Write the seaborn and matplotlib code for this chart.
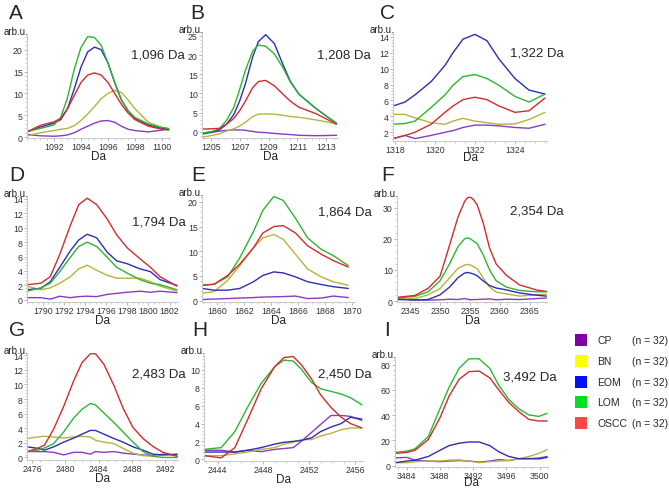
import matplotlib
matplotlib.use("Agg")
import matplotlib.pyplot as plt
from matplotlib.patches import Rectangle
from matplotlib.ticker import AutoMinorLocator
import pandas as pd
import seaborn as sns

# group names and colours
groups = ["CP", "BN", "EOM", "LOM", "OSCC"]
line_colors = {"CP": "#8a3cc0", "BN": "#b8b33a", "EOM": "#2e2eb5",
               "LOM": "#2fb52f", "OSCC": "#d22c2c"}
legend_colors = ["#8000a8", "#ffff00", "#0010ff", "#00e020", "#ff4646"]
legend_n = ["(n = 32)"] * 5

# ---- panel A: 1,096 Da
a_x = [1090.0, 1091, 1092, 1092.5, 1093, 1093.5, 1094, 1094.5, 1095, 1095.5,
       1096, 1096.5, 1097, 1097.5, 1098, 1099, 1100, 1100.5]
a_cp = [0.6, 0.3, 0.2, 0.3, 0.5, 1.0, 1.8, 2.5, 3.2, 3.7, 3.8, 3.4, 2.5, 1.8, 1.5, 1.2, 1.6, 1.9]
a_bn = [0.3, 1.0, 1.5, 1.8, 2.0, 2.6, 3.8, 5.3, 7.0, 8.8, 10.0, 10.7, 10.2, 8.5, 6.5, 3.4, 2.2, 1.9]
a_eom = [1.2, 2.3, 3.2, 4.0, 6.5, 11.0, 16.0, 19.5, 20.6, 20.0, 17.0, 12.5, 8.5, 6.0, 4.3, 2.8, 2.0, 1.8]
a_lom = [1.3, 2.0, 2.8, 4.5, 9.0, 15.5, 20.5, 23.0, 22.8, 21.0, 17.0, 12.5, 8.5, 6.0, 4.5, 3.0, 2.2, 2.0]
a_oscc = [1.2, 2.7, 3.5, 4.3, 6.5, 9.5, 12.5, 14.2, 14.7, 14.2, 12.5, 10.0, 7.5, 5.5, 4.0, 2.5, 1.8, 1.6]

# ---- panel B: 1,208 Da
b_x = [1204.4, 1205, 1205.6, 1206.1, 1206.6, 1207, 1207.4, 1207.9, 1208.3, 1208.8,
       1209.4, 1210.0, 1210.5, 1211.1, 1212.3, 1213.7]
b_cp = [-0.6, -0.2, 0.2, 0.4, 0.5, 0.5, 0.4, 0.1, -0.1, -0.2, -0.4, -0.6, -0.7, -0.9, -1.0, -0.9]
b_bn = [-1.4, -1.0, -0.5, 0.2, 0.8, 1.5, 2.5, 4.0, 4.6, 4.7, 4.6, 4.3, 4.0, 3.8, 3.1, 2.1]
b_eom = [-0.3, -0.1, 0.5, 2.0, 4.5, 8.0, 12.5, 19.5, 23.5, 25.3, 23.0, 17.5, 13.2, 9.8, 6.0, 2.2]
b_lom = [-0.3, 0.0, 0.8, 3.0, 6.4, 11.0, 16.0, 21.0, 22.6, 22.3, 20.3, 16.7, 13.0, 9.8, 6.0, 2.2]
b_oscc = [0.7, 0.8, 0.9, 2.0, 3.5, 5.5, 8.0, 11.5, 13.1, 13.4, 12.0, 9.8, 8.0, 6.4, 4.7, 2.0]

# ---- panel C: 1,322 Da
c_x = [1317.9, 1318.5, 1319.0, 1319.8, 1320.5, 1320.9, 1321.4, 1322.0, 1322.6, 1323.2,
       1324.0, 1324.7, 1325.5]
c_cp = [1.2, 1.6, 1.2, 1.6, 2.0, 2.2, 2.6, 2.9, 2.9, 2.8, 2.6, 2.5, 3.0]
c_bn = [4.25, 4.25, 3.8, 3.2, 3.0, 3.4, 3.75, 3.4, 3.2, 3.0, 3.05, 3.6, 4.5]
c_eom = [5.3, 5.8, 6.7, 8.35, 10.4, 12.0, 13.7, 14.3, 13.5, 11.2, 8.75, 7.3, 6.8]
c_lom = [3.0, 3.1, 3.4, 5.1, 6.7, 7.9, 9.0, 9.25, 8.75, 7.9, 6.5, 5.8, 6.8]
c_oscc = [1.2, 1.6, 2.0, 3.0, 4.5, 5.3, 6.1, 6.4, 6.1, 5.3, 4.5, 4.7, 6.3]

# ---- panel D: 1,794 Da
d_x = [1788.5, 1789.8, 1790.7, 1791.6, 1792.6, 1793.4, 1794.2, 1795.1, 1796.1, 1797.0,
       1798.0, 1799.2, 1800.2, 1801.1, 1802.7]
d_cp = [0.3, 0.3, 0.1, 0.5, 0.3, 0.45, 0.5, 0.45, 0.75, 0.9, 1.05, 1.2, 1.05, 1.2, 1.0]
d_bn = [1.9, 1.4, 1.65, 2.3, 3.2, 4.3, 4.8, 4.1, 3.4, 3.0, 3.0, 3.0, 2.5, 1.9, 1.2]
d_eom = [1.4, 1.6, 2.5, 4.5, 6.8, 8.3, 9.1, 8.6, 6.6, 5.4, 5.0, 4.3, 3.9, 2.8, 2.0]
d_lom = [1.2, 1.65, 2.3, 3.9, 5.9, 7.4, 8.0, 7.4, 5.9, 4.5, 3.7, 2.8, 2.3, 2.1, 1.4]
d_oscc = [2.1, 2.3, 3.2, 6.3, 10.3, 13.2, 14.1, 13.2, 11.2, 9.0, 7.2, 5.7, 4.5, 3.2, 1.9]

# ---- panel E: 1,864 Da
e_x = [1858.9, 1859.8, 1860.8, 1861.7, 1862.7, 1863.4, 1864.2, 1864.9, 1865.8, 1866.7,
       1867.7, 1868.6, 1869.7]
e_cp = [0.2, 0.3, 0.4, 0.5, 0.6, 0.7, 0.75, 0.8, 0.9, 0.4, 0.5, 0.9, 0.6]
e_bn = [1.5, 1.8, 4.1, 7.1, 10.7, 12.7, 13.4, 12.4, 9.4, 6.4, 4.8, 3.8, 3.1]
e_eom = [2.45, 2.1, 2.1, 2.45, 3.8, 5.1, 5.8, 5.6, 4.8, 3.8, 3.25, 2.8, 2.45]
e_lom = [3.1, 3.3, 4.8, 8.7, 14.0, 18.3, 21.1, 20.3, 16.7, 12.7, 10.4, 9.1, 7.1]
e_oscc = [3.1, 3.3, 5.1, 7.4, 10.7, 13.7, 15.0, 15.2, 13.7, 11.1, 9.4, 8.1, 6.8]

# ---- panel F: 2,354 Da
f_x = [2342.8, 2345.8, 2348.0, 2350.0, 2351.6, 2353.0, 2354.1, 2354.6, 2355.1, 2355.6,
       2356.2, 2357.2, 2358.3, 2359.4, 2361.1, 2363.3, 2366.1, 2367.8]
f_cp = [0.8, 0.4, 0.3, 0.4, 0.6, 0.5, 0.8, 0.6, 0.4, 0.5, 0.5, 0.6, 0.7, 0.4, 0.6, 0.5, 0.8, 1.0]
f_bn = [0.6, 0.8, 2.0, 4.0, 7.5, 10.5, 11.6, 11.8, 11.6, 11.1, 10.5, 7.5, 4.5, 2.9, 2.3, 1.6, 2.0, 2.2]
f_eom = [0.5, 0.3, 0.5, 2.0, 4.5, 7.5, 9.0, 9.2, 9.0, 8.7, 8.2, 6.5, 5.0, 4.2, 3.6, 2.6, 1.9, 1.6]
f_lom = [1.0, 1.5, 3.0, 6.5, 12.0, 17.5, 20.0, 20.3, 20.0, 19.3, 18.5, 15.0, 10.0, 6.5, 4.5, 3.4, 3.0, 3.0]
f_oscc = [1.2, 1.8, 4.1, 8.0, 18.0, 27.0, 32.0, 33.3, 33.4, 32.6, 31.0, 25.3, 17.0, 11.9, 8.3, 5.2, 3.6, 3.1]

# ---- panel G: 2,483 Da
g_x = [2475.4, 2476.7, 2477.5, 2478.6, 2479.8, 2481.0, 2482.0, 2483.0, 2483.6, 2484.6,
       2485.8, 2486.9, 2488.1, 2489.3, 2490.5, 2491.7, 2493.4]
g_cp = [0.8, 0.8, 0.8, 0.7, 0.35, 0.7, 0.7, 0.45, 0.8, 0.7, 0.8, 0.6, 0.45, 0.35, 0.25, 0.45, 0.35]
g_bn = [2.6, 2.8, 2.9, 2.8, 2.65, 2.8, 2.9, 2.8, 2.35, 2.1, 1.9, 1.25, 0.6, 0.25, 0.15, 0.35, 0.35]
g_eom = [1.45, 1.25, 1.0, 1.45, 2.1, 2.65, 3.2, 3.7, 3.7, 3.2, 2.6, 2.1, 1.45, 1.0, 0.45, 0.35, 0.45]
g_lom = [0.8, 1.0, 1.3, 1.9, 3.5, 5.4, 6.6, 7.4, 7.2, 6.1, 4.8, 3.5, 2.1, 0.8, 0.15, 0.0, 0.0]
g_oscc = [0.8, 1.25, 1.7, 3.9, 7.0, 10.5, 13.0, 14.2, 14.2, 12.8, 9.9, 6.8, 4.1, 2.6, 1.5, 0.7, 0.15]

# ---- panel H: 2,450 Da
h_x = [2442.8, 2444.3, 2445.5, 2446.6, 2447.8, 2449.0, 2449.8, 2450.6, 2451.3, 2452.2,
       2453.0, 2453.9, 2454.8, 2455.6, 2456.6]
h_cp = [1.0, 1.0, 0.8, 1.0, 0.85, 1.1, 1.2, 1.3, 2.0, 3.0, 3.9, 4.9, 4.9, 4.8, 4.35]
h_bn = [0.4, 0.4, 0.6, 0.8, 1.1, 1.3, 1.7, 1.9, 2.2, 2.2, 2.6, 2.9, 3.3, 3.5, 3.5]
h_eom = [0.8, 0.8, 0.8, 1.0, 1.3, 1.7, 1.9, 2.0, 2.1, 2.4, 3.1, 3.6, 4.0, 4.7, 4.5]
h_lom = [1.1, 1.3, 3.1, 5.8, 8.5, 10.4, 11.1, 11.0, 10.1, 8.6, 7.9, 7.6, 7.3, 6.9, 6.1]
h_oscc = [0.4, 0.15, 1.3, 4.4, 7.9, 10.4, 11.4, 11.5, 10.6, 9.0, 7.2, 5.8, 4.7, 4.0, 3.5]

# ---- panel I: 3,492 Da
i_x = [3482.6, 3484.0, 3485.0, 3486.6, 3488.0, 3489.1, 3490.3, 3491.5, 3492.7, 3494.0,
       3495.1, 3496.3, 3497.5, 3498.7, 3499.9, 3500.9]
i_cp = [6.1, 6.6, 4.4, 3.7, 3.2, 3.7, 4.1, 3.7, 2.9, 3.7, 4.9, 4.1, 5.6, 5.6, 6.1, 7.3]
i_bn = [2.4, 2.4, 3.2, 3.7, 3.7, 4.4, 4.6, 3.7, 2.4, 3.2, 3.7, 4.1, 5.6, 7.3, 9.8, 12.7]
i_eom = [2.4, 3.7, 4.4, 7.3, 12.2, 15.9, 17.8, 18.8, 18.8, 15.9, 11.0, 7.3, 5.6, 5.6, 5.4, 6.6]
i_lom = [10.5, 11.5, 13.4, 23.0, 45.0, 62.0, 77.0, 84.6, 84.6, 77.0, 63.4, 52.4, 45.0, 40.2, 39.0, 41.5]
i_oscc = [9.8, 10.5, 12.2, 20.7, 37.8, 55.0, 68.3, 74.4, 74.9, 69.5, 59.8, 50.0, 42.7, 36.6, 35.4, 35.4]

panel_letters = ["A", "B", "C", "D", "E", "F", "G", "H", "I"]
mass_labels = ["1,096 Da", "1,208 Da", "1,322 Da", "1,794 Da", "1,864 Da",
               "2,354 Da", "2,483 Da", "2,450 Da", "3,492 Da"]
xticks = [[1092, 1094, 1096, 1098, 1100], [1205, 1207, 1209, 1211, 1213],
          [1318, 1320, 1322, 1324], [1790, 1792, 1794, 1796, 1798, 1800, 1802],
          [1860, 1862, 1864, 1866, 1868, 1870], [2345, 2350, 2355, 2360, 2365],
          [2476, 2480, 2484, 2488, 2492], [2444, 2448, 2452, 2456],
          [3484, 3488, 3492, 3496, 3500]]
yticks = [[0, 5, 10, 15, 20], [0, 5, 10, 15, 20, 25], [2, 4, 6, 8, 10, 12, 14],
          [0, 2, 4, 6, 8, 10, 12, 14], [0, 5, 10, 15, 20], [0, 10, 20, 30],
          [0, 2, 4, 6, 8, 10, 12, 14], [0, 2, 4, 6, 8, 10], [0, 20, 40, 60, 80]]

panels = [
    (a_x, [a_cp, a_bn, a_eom, a_lom, a_oscc]),
    (b_x, [b_cp, b_bn, b_eom, b_lom, b_oscc]),
    (c_x, [c_cp, c_bn, c_eom, c_lom, c_oscc]),
    (d_x, [d_cp, d_bn, d_eom, d_lom, d_oscc]),
    (e_x, [e_cp, e_bn, e_eom, e_lom, e_oscc]),
    (f_x, [f_cp, f_bn, f_eom, f_lom, f_oscc]),
    (g_x, [g_cp, g_bn, g_eom, g_lom, g_oscc]),
    (h_x, [h_cp, h_bn, h_eom, h_lom, h_oscc]),
    (i_x, [i_cp, i_bn, i_eom, i_lom, i_oscc]),
]

# layout in pixels: axes box (left, top, right, bottom), x and y limits
boxes = [(27, 35, 170, 139), (202, 33, 338, 139), (393, 33, 547, 142),
         (27, 197, 178, 303), (202, 196, 355, 303), (397, 197, 547, 303),
         (27, 354, 178, 461), (204, 354, 363, 462), (395, 358, 548, 468)]
xlims = [(1090.0, 1100.6), (1204.4, 1213.8), (1317.9, 1325.6), (1788.5, 1802.8),
         (1858.9, 1870.2), (2342.8, 2367.9), (2475.4, 2493.5), (2442.8, 2456.7),
         (3482.6, 3501.0)]
ylims = [(-0.2, 23.6), (-1.6, 26.0), (0.9, 14.6), (-0.3, 14.4), (-0.3, 21.4),
         (-0.3, 33.8), (-0.35, 14.3), (-0.2, 11.9), (-1.0, 86.0)]
letter_pos = [(9, 4), (190, 4), (380, 4), (9, 166), (191, 166), (381, 166),
              (9, 321), (192, 321), (384, 321)]
mass_pos = [(131, 55), (317, 55), (510, 54), (132, 223), (318, 213), (510, 212),
            (132, 375), (318, 375), (503, 377)]
xlabel_pad = [-1, -1, -2, -1, -1, -1, -1, -1, -3]

W, H = 669, 489
sns.set_theme(style="white")
plt.rcParams["font.family"] = ["Liberation Sans", "DejaVu Sans"]

fig = plt.figure(figsize=(W / 100, H / 100), dpi=100)

for k, (xs, series) in enumerate(panels):
    l, t, r, b = boxes[k]
    ax = fig.add_axes([l / W, 1 - b / H, (r - l) / W, (b - t) / H])
    df = pd.DataFrame({
        "Da": xs * 5,
        "val": [v for s in series for v in s],
        "group": [g for g in groups for _ in xs],
    })
    sns.lineplot(data=df, x="Da", y="val", hue="group", palette=line_colors,
                 estimator=None, sort=False, legend=False, lw=1.0, ax=ax)
    for line in ax.get_lines():
        line.set_solid_joinstyle("round")
    ax.set_xlim(*xlims[k])
    ax.set_ylim(*ylims[k])
    ax.set_xticks(xticks[k])
    ax.set_yticks(yticks[k])
    ax.xaxis.set_minor_locator(AutoMinorLocator(4))
    ax.yaxis.set_minor_locator(AutoMinorLocator(5))
    ax.tick_params(axis="both", which="major", labelsize=6.3, labelcolor="#333333",
                   length=2, width=0.6, color="#aaaaaa", pad=1, direction="out",
                   bottom=True, left=True)
    ax.tick_params(axis="both", which="minor", length=1.3, width=0.5,
                   color="#bbbbbb", bottom=True, left=True)
    for side in ["top", "right"]:
        ax.spines[side].set_visible(False)
    for side in ["left", "bottom"]:
        ax.spines[side].set_color("#c8c8c8")
        ax.spines[side].set_linewidth(0.7)
    ax.set_ylabel("")
    ax.set_xlabel("Da", fontsize=8.5, labelpad=xlabel_pad[k])
    ax.set_facecolor("none")

    fig.text((l + 1) / W, 1 - (t - 3) / H, "arb.u.", fontsize=7, ha="right",
             va="center", color="#222222")
    lx, ly = letter_pos[k]
    fig.text(lx / W, 1 - ly / H, panel_letters[k], fontsize=15, ha="left", va="top")
    mx, my = mass_pos[k]
    fig.text(mx / W, 1 - my / H, mass_labels[k], fontsize=9.5, ha="left", va="center")

# legend drawn as coloured squares and labels
legend_rows = [341, 362, 383, 403, 424]
for name, col, n, y in zip(groups, legend_colors, legend_n, legend_rows):
    fig.patches.append(Rectangle((575 / W, 1 - (y + 6) / H), 12 / W, 12 / H,
                                 transform=fig.transFigure, color=col, ec="none"))
    fig.text(597 / W, 1 - y / H, name, fontsize=7.5, ha="left", va="center")
    fig.text(632 / W, 1 - y / H, n, fontsize=7.5, ha="left", va="center")

fig.savefig("out.png", dpi=100)
